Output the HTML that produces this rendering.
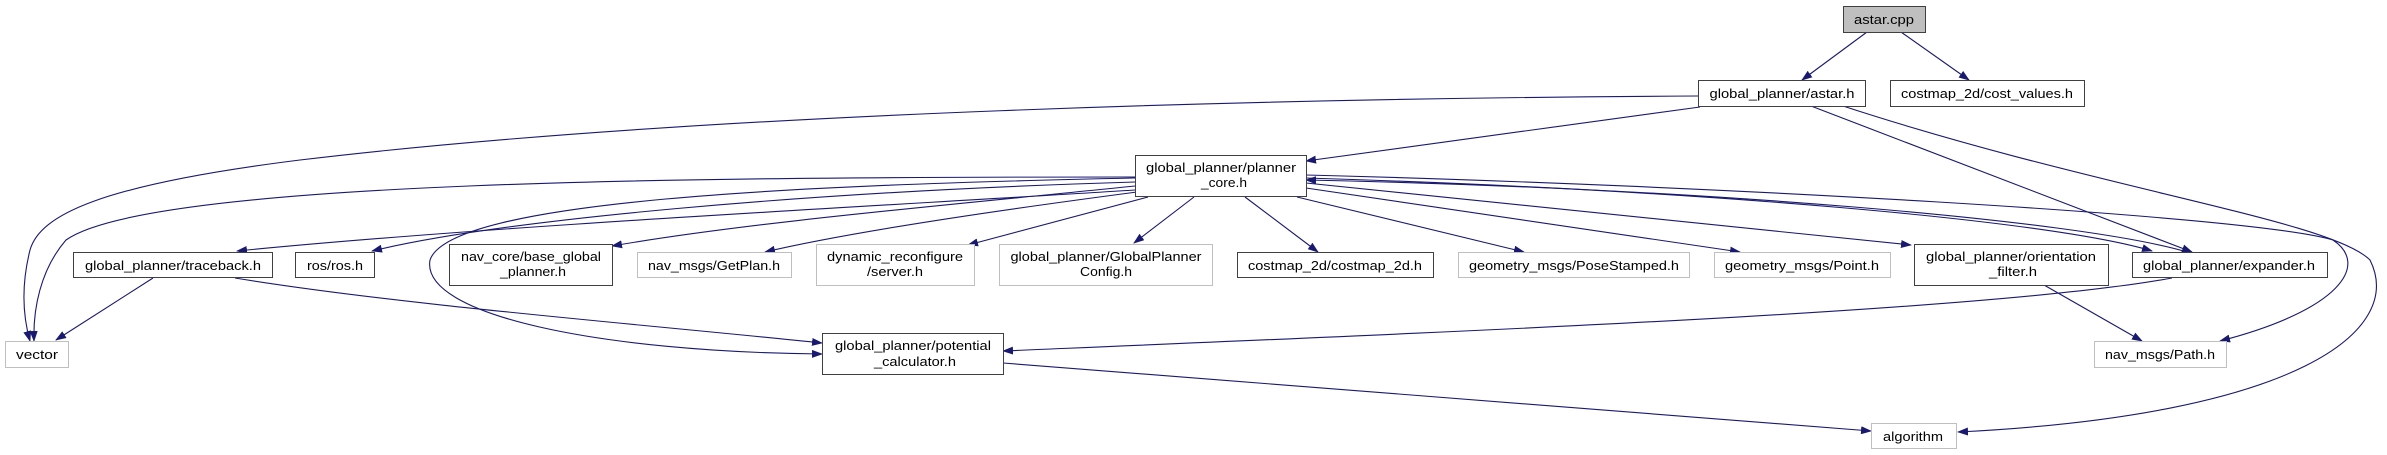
<!DOCTYPE html>
<html><head><meta charset="utf-8"><style>
html,body{margin:0;padding:0;background:#fff;}
svg{display:block}
text{font-family:"Liberation Sans",sans-serif;font-size:13px;fill:#000;}
</style></head><body>
<svg width="2387" height="455" viewBox="0 0 2387 455" xmlns="http://www.w3.org/2000/svg">
<defs>
<marker id="a" markerWidth="11" markerHeight="8" refX="10" refY="4" orient="auto" markerUnits="userSpaceOnUse">
<path d="M0,0 L11,4 L0,8 z" fill="#191970"/>
</marker>
</defs>
<g fill="none" stroke="#191970" stroke-width="1.1" marker-end="url(#a)">
<path d="M1867,32 L1802,80"/>
<path d="M1901,32 L1969,80"/>
<path d="M1698,96 C1300,98 700,112 300,160 C100,185 40,215 30,250 C20,290 24,320 30,341"/>
<path d="M1700,107 L1306,161"/>
<path d="M1811,106 L2192,252"/>
<path d="M1843,106 C2100,190 2330,220 2370,260 C2405,330 2300,415 1958,432"/>
<path d="M1135,190 C900,205 500,225 237,251"/>
<path d="M1135,177 C700,177 150,180 66,240 C40,270 33,310 34,341"/>
<path d="M1135,182 C800,192 500,220 372,251"/>
<path d="M1135,186 C950,205 750,222 612,246"/>
<path d="M1137,192 C1000,210 850,232 765,252"/>
<path d="M1148,197 L968,245"/>
<path d="M1194,197 L1134,243"/>
<path d="M1245,197 L1318,252"/>
<path d="M1297,197 L1524,252"/>
<path d="M1306,188 L1740,252"/>
<path d="M1306,183 L1911,245"/>
<path d="M1306,178 C1700,190 2050,220 2152,251"/>
<path d="M2187,252 C2080,220 1700,188 1306,180"/>
<path d="M1306,175 C1700,185 2250,215 2333,240 C2370,265 2340,310 2220,341"/>
<path d="M1135,178 C800,185 450,200 430,260 C420,315 600,352 822,354"/>
<path d="M153,278 L56,340"/>
<path d="M235,278 C400,305 650,325 822,343"/>
<path d="M2172,278 C2000,310 1500,330 1003,351"/>
<path d="M1003,363 L1871,431"/>
<path d="M2044,285 L2142,341"/>
</g>
<g stroke-width="1">
<rect x="1843.5" y="6.5" width="82" height="26" fill="#bfbfbf" stroke="#404040"/>
<rect x="1698.5" y="80.5" width="167" height="26" fill="#fff" stroke="#404040"/>
<rect x="1890.5" y="80.5" width="194" height="26" fill="#fff" stroke="#404040"/>
<rect x="1135.5" y="155.5" width="171" height="41" fill="#fff" stroke="#404040"/>
<rect x="5.5" y="341.5" width="63" height="26" fill="#fff" stroke="#bfbfbf"/>
<rect x="73.5" y="252.5" width="199" height="25" fill="#fff" stroke="#404040"/>
<rect x="295.5" y="252.5" width="79" height="25" fill="#fff" stroke="#404040"/>
<rect x="449.5" y="244.5" width="163" height="41" fill="#fff" stroke="#404040"/>
<rect x="637.5" y="252.5" width="154" height="25" fill="#fff" stroke="#bfbfbf"/>
<rect x="816.5" y="244.5" width="158" height="41" fill="#fff" stroke="#bfbfbf"/>
<rect x="999.5" y="244.5" width="213" height="41" fill="#fff" stroke="#bfbfbf"/>
<rect x="1237.5" y="252.5" width="196" height="25" fill="#fff" stroke="#404040"/>
<rect x="1458.5" y="252.5" width="231" height="25" fill="#fff" stroke="#bfbfbf"/>
<rect x="1714.5" y="252.5" width="176" height="25" fill="#fff" stroke="#bfbfbf"/>
<rect x="1914.5" y="244.5" width="194" height="41" fill="#fff" stroke="#404040"/>
<rect x="2132.5" y="252.5" width="195" height="25" fill="#fff" stroke="#404040"/>
<rect x="822.5" y="333.5" width="181" height="41" fill="#fff" stroke="#404040"/>
<rect x="2094.5" y="341.5" width="132" height="26" fill="#fff" stroke="#bfbfbf"/>
<rect x="1871.5" y="423.5" width="85" height="25" fill="#fff" stroke="#bfbfbf"/>
</g>
<g text-anchor="middle">
<text x="1884" y="24" textLength="60" lengthAdjust="spacingAndGlyphs">astar.cpp</text>
<text x="1782" y="98" textLength="145" lengthAdjust="spacingAndGlyphs">global_planner/astar.h</text>
<text x="1987" y="98" textLength="172" lengthAdjust="spacingAndGlyphs">costmap_2d/cost_values.h</text>
<text x="1221" y="172" textLength="150" lengthAdjust="spacingAndGlyphs">global_planner/planner</text>
<text x="1224" y="187" textLength="46" lengthAdjust="spacingAndGlyphs">_core.h</text>
<text x="37" y="359" textLength="42" lengthAdjust="spacingAndGlyphs">vector</text>
<text x="173" y="270" textLength="176" lengthAdjust="spacingAndGlyphs">global_planner/traceback.h</text>
<text x="335" y="270" textLength="56" lengthAdjust="spacingAndGlyphs">ros/ros.h</text>
<text x="531" y="261" textLength="140" lengthAdjust="spacingAndGlyphs">nav_core/base_global</text>
<text x="533" y="276" textLength="66" lengthAdjust="spacingAndGlyphs">_planner.h</text>
<text x="714" y="270" textLength="132" lengthAdjust="spacingAndGlyphs">nav_msgs/GetPlan.h</text>
<text x="895" y="261" textLength="136" lengthAdjust="spacingAndGlyphs">dynamic_reconfigure</text>
<text x="895" y="276" textLength="56" lengthAdjust="spacingAndGlyphs">/server.h</text>
<text x="1106" y="261" textLength="191" lengthAdjust="spacingAndGlyphs">global_planner/GlobalPlanner</text>
<text x="1106" y="276" textLength="52" lengthAdjust="spacingAndGlyphs">Config.h</text>
<text x="1335" y="270" textLength="174" lengthAdjust="spacingAndGlyphs">costmap_2d/costmap_2d.h</text>
<text x="1574" y="270" textLength="210" lengthAdjust="spacingAndGlyphs">geometry_msgs/PoseStamped.h</text>
<text x="1802" y="270" textLength="154" lengthAdjust="spacingAndGlyphs">geometry_msgs/Point.h</text>
<text x="2011" y="261" textLength="170" lengthAdjust="spacingAndGlyphs">global_planner/orientation</text>
<text x="2013" y="276" textLength="48" lengthAdjust="spacingAndGlyphs">_filter.h</text>
<text x="2229" y="270" textLength="172" lengthAdjust="spacingAndGlyphs">global_planner/expander.h</text>
<text x="913" y="350" textLength="156" lengthAdjust="spacingAndGlyphs">global_planner/potential</text>
<text x="915" y="366" textLength="82" lengthAdjust="spacingAndGlyphs">_calculator.h</text>
<text x="2160" y="359" textLength="110" lengthAdjust="spacingAndGlyphs">nav_msgs/Path.h</text>
<text x="1913" y="441" textLength="60" lengthAdjust="spacingAndGlyphs">algorithm</text>
</g>
</svg>
</body></html>
